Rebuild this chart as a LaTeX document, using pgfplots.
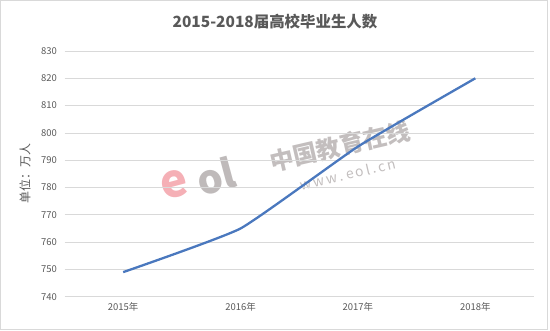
\documentclass[border=0pt]{standalone}
\usepackage{pgfplots}
\pgfplotsset{compat=1.18}
\usepackage{fontspec}
\setmainfont{Noto Sans CJK SC}
\definecolor{txtc}{HTML}{595959}
\definecolor{gridc}{HTML}{D9D9D9}
\definecolor{linec}{HTML}{4A78BE}
\definecolor{wmc}{HTML}{B8B3B3}
\definecolor{wmpink}{HTML}{F4A7AE}
\begin{document}
\begin{tikzpicture}[x=1bp,y=1bp]
\useasboundingbox (0,0) rectangle (550,330);
\draw[gridc, line width=1bp] (0.5,0.5) rectangle (547,329.5);
\node[text=txtc, font=\fontsize{15.5}{18}\selectfont\bfseries] at (275,308) {2015-2018届高校毕业生人数};
% watermark
\node[text=wmpink, font=\fontsize{46}{46}\selectfont\bfseries, rotate=15, opacity=0.9] at (174,146) {e};
\node[text=wmc, font=\fontsize{40}{40}\selectfont\bfseries, rotate=15, opacity=0.9] at (216,154) {ol};
\node[text=wmc, font=\fontsize{24}{24}\selectfont\bfseries, rotate=13, opacity=0.85] at (340,184) {中国教育在线};
\node[text=wmc, font=\fontsize{14}{14}\selectfont, rotate=13, opacity=0.85] at (348,156) {w\,w\,w\,.\,e\,o\,l\,.\,c\,n};
\begin{axis}[
  at={(64.5bp,33.3bp)}, anchor=south west,
  scale only axis, width=469.5bp, height=245.7bp,
  xmin=-0.5, xmax=3.5, ymin=740, ymax=830,
  xtick=data, xticklabels={2015年,2016年,2017年,2018年},
  ytick={740,750,...,830},
  ymajorgrids, xmajorgrids=false, grid style={draw=gridc, line width=0.8bp},
  axis line style={draw=none},
  major tick length=0pt,
  tick label style={text=txtc, font=\fontsize{9.5}{11}\selectfont},
  /pgf/number format/assume math mode=true,
  yticklabel style={xshift=-4bp},
  xticklabel style={yshift=-2bp},
  ylabel={单位：万人},
  ylabel style={text=txtc, font=\fontsize{12}{14}\selectfont, at={(axis description cs:-0.084,0.5)}, anchor=center, rotate=0},
  clip=false,
]
\addplot[linec, line width=2.3bp, smooth, tension=0.25] coordinates {(0,749) (1,765) (2,795) (3,820)};
\end{axis}
\end{tikzpicture}
\end{document}
